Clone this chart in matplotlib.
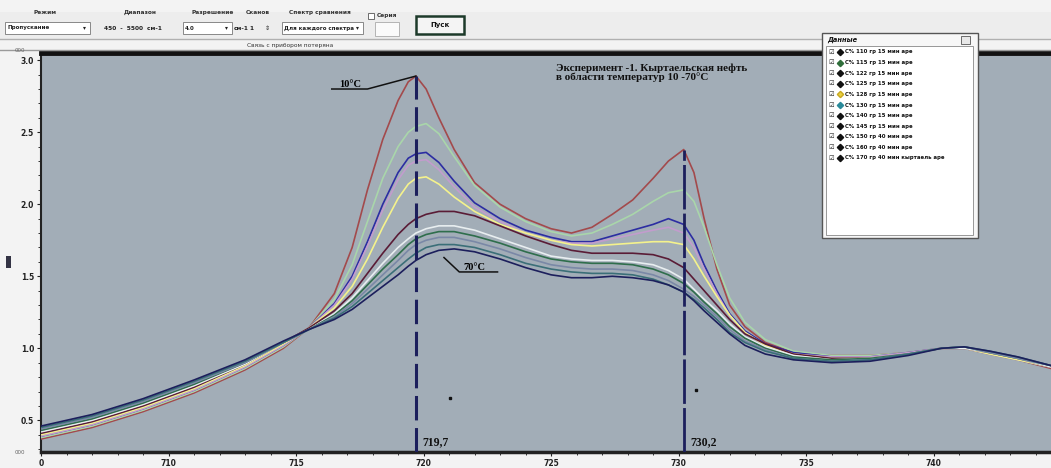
import matplotlib
matplotlib.use("Agg")
import matplotlib.pyplot as plt
from matplotlib.patches import Rectangle
from matplotlib.lines import Line2D
from matplotlib.ticker import MultipleLocator

W, H = 1051, 468

# ---- spectra: wavenumber grid and absorbance of each sample ----
wavenumber = [705, 707, 709, 711, 713, 714.5, 715.5, 716.5, 717.2, 717.8, 718.4,
              719.0, 719.4, 719.7, 720.1, 720.6, 721.2, 722.0, 723.0, 724.0, 725.0,
              725.8, 726.6, 727.4, 728.2, 729.0, 729.6, 730.2, 730.6, 731.0, 731.5,
              732.0, 732.6, 733.4, 734.5, 736.0, 737.5, 739.0, 740.3, 741.2, 742.2,
              743.3, 744.6]

a_110 = [0.37, 0.45, 0.56, 0.69, 0.85, 1.00, 1.14, 1.38, 1.70, 2.10, 2.45, 2.72, 2.85, 2.89,
         2.80, 2.60, 2.38, 2.15, 2.00, 1.90, 1.83, 1.80, 1.84, 1.93, 2.03, 2.18, 2.30, 2.38,
         2.22, 1.90, 1.55, 1.30, 1.15, 1.04, 0.97, 0.95, 0.95, 0.97, 1.00, 1.00, 0.96, 0.92, 0.86]
a_115 = [0.38, 0.46, 0.57, 0.70, 0.86, 1.01, 1.14, 1.34, 1.58, 1.88, 2.18, 2.40, 2.50, 2.54,
         2.56, 2.49, 2.33, 2.13, 1.98, 1.88, 1.81, 1.78, 1.80, 1.86, 1.93, 2.02, 2.08, 2.10,
         2.02, 1.84, 1.58, 1.35, 1.18, 1.06, 0.98, 0.95, 0.95, 0.97, 1.00, 1.00, 0.96, 0.92, 0.87]
a_122 = [0.39, 0.47, 0.58, 0.71, 0.87, 1.02, 1.14, 1.31, 1.50, 1.74, 2.00, 2.22, 2.32, 2.35,
         2.36, 2.29, 2.16, 2.01, 1.90, 1.82, 1.77, 1.74, 1.74, 1.78, 1.82, 1.86, 1.90, 1.86,
         1.75, 1.58, 1.40, 1.24, 1.12, 1.03, 0.97, 0.94, 0.94, 0.97, 1.00, 1.00, 0.96, 0.92, 0.87]
a_125 = [0.39, 0.47, 0.58, 0.71, 0.87, 1.02, 1.14, 1.30, 1.48, 1.71, 1.96, 2.17, 2.27, 2.30,
         2.31, 2.24, 2.12, 1.98, 1.88, 1.80, 1.75, 1.73, 1.73, 1.76, 1.79, 1.82, 1.84, 1.80,
         1.70, 1.55, 1.38, 1.23, 1.11, 1.02, 0.96, 0.94, 0.94, 0.97, 1.00, 1.00, 0.96, 0.92, 0.87]
a_128 = [0.40, 0.48, 0.59, 0.72, 0.88, 1.03, 1.14, 1.28, 1.43, 1.62, 1.84, 2.04, 2.14, 2.18,
         2.19, 2.14, 2.05, 1.95, 1.86, 1.80, 1.75, 1.72, 1.71, 1.72, 1.73, 1.74, 1.74, 1.72,
         1.62, 1.50, 1.36, 1.23, 1.11, 1.02, 0.96, 0.93, 0.93, 0.96, 1.00, 1.00, 0.96, 0.92, 0.87]
a_130 = [0.41, 0.49, 0.60, 0.73, 0.89, 1.04, 1.14, 1.26, 1.38, 1.52, 1.66, 1.79, 1.86, 1.90,
         1.93, 1.95, 1.95, 1.92, 1.85, 1.78, 1.72, 1.68, 1.66, 1.66, 1.66, 1.65, 1.62, 1.56,
         1.48, 1.40, 1.30, 1.20, 1.10, 1.03, 0.96, 0.93, 0.93, 0.96, 1.00, 1.00, 0.97, 0.93, 0.87]
a_140 = [0.42, 0.50, 0.61, 0.74, 0.89, 1.04, 1.13, 1.24, 1.35, 1.47, 1.59, 1.70, 1.76, 1.80,
         1.83, 1.85, 1.85, 1.82, 1.76, 1.70, 1.64, 1.62, 1.61, 1.61, 1.60, 1.58, 1.54, 1.48,
         1.41, 1.34, 1.26, 1.17, 1.08, 1.01, 0.95, 0.92, 0.93, 0.96, 1.00, 1.00, 0.97, 0.93, 0.87]
a_145 = [0.43, 0.51, 0.62, 0.75, 0.90, 1.04, 1.13, 1.23, 1.33, 1.44, 1.55, 1.65, 1.72, 1.76,
         1.79, 1.81, 1.81, 1.78, 1.73, 1.67, 1.62, 1.60, 1.59, 1.59, 1.58, 1.55, 1.51, 1.45,
         1.39, 1.32, 1.24, 1.15, 1.07, 1.00, 0.94, 0.92, 0.93, 0.96, 1.00, 1.01, 0.97, 0.93, 0.88]
a_150 = [0.44, 0.52, 0.63, 0.76, 0.90, 1.04, 1.13, 1.22, 1.31, 1.41, 1.51, 1.61, 1.68, 1.72,
         1.75, 1.77, 1.77, 1.74, 1.69, 1.63, 1.58, 1.56, 1.55, 1.55, 1.54, 1.51, 1.47, 1.41,
         1.36, 1.30, 1.22, 1.13, 1.05, 0.99, 0.93, 0.91, 0.92, 0.96, 1.00, 1.01, 0.97, 0.93, 0.88]
a_160 = [0.45, 0.53, 0.64, 0.77, 0.91, 1.04, 1.13, 1.21, 1.29, 1.38, 1.47, 1.56, 1.62, 1.66,
         1.70, 1.72, 1.72, 1.70, 1.65, 1.59, 1.55, 1.53, 1.52, 1.52, 1.51, 1.48, 1.44, 1.39,
         1.34, 1.28, 1.20, 1.11, 1.04, 0.98, 0.93, 0.91, 0.92, 0.96, 1.00, 1.01, 0.98, 0.94, 0.88]
a_170 = [0.46, 0.54, 0.65, 0.78, 0.92, 1.05, 1.13, 1.20, 1.27, 1.35, 1.43, 1.51, 1.57, 1.61,
         1.65, 1.68, 1.69, 1.67, 1.62, 1.56, 1.51, 1.49, 1.49, 1.50, 1.49, 1.47, 1.44, 1.39,
         1.33, 1.26, 1.18, 1.10, 1.02, 0.96, 0.92, 0.90, 0.91, 0.95, 1.00, 1.01, 0.98, 0.94, 0.88]

spectra = [a_110, a_115, a_122, a_125, a_128, a_130, a_140, a_145, a_150, a_160, a_170]
line_colors = ["#a34a4c", "#a9d6aa", "#2c2da2", "#c29ccd", "#f4f28c", "#5a1c36",
               "#e8eef0", "#2f6e4c", "#7a88a6", "#3b6f78", "#1c1f5c"]

legend_labels = ["С% 110 гр 15 мин аре", "С% 115 гр 15 мин аре", "С% 122 гр 15 мин аре",
                 "С% 125 гр 15 мин аре", "С% 128 гр 15 мин аре", "С% 130 гр 15 мин аре",
                 "С% 140 гр 15 мин аре", "С% 145 гр 15 мин аре", "С% 150 гр 40 мин аре",
                 "С% 160 гр 40 мин аре", "С% 170 гр 40 мин кыртаель аре"]
legend_markers = ["#111111", "#2f6e3a", "#111111", "#111111", "#e8d040", "#2a8a9a",
                  "#111111", "#111111", "#111111", "#111111", "#111111"]

peak_positions = [719.7, 730.2]
peak_labels = ["719,7", "730,2"]
x_ticks = [705, 710, 715, 720, 725, 730, 735, 740]
x_tick_labels = ["0", "710", "715", "720", "725", "730", "735", "740"]
y_ticks = [0.5, 1.0, 1.5, 2.0, 2.5, 3.0]
y_tick_labels = ["0.5", "1.0", "1.5", "2.0", "2.5", "3.0"]

title_text = "Эксперимент -1. Кыртаельская нефть\nв области температур 10 -70°C"


def fx(px):
    return px / W


def fy(py):
    return 1 - py / H


fig = plt.figure(figsize=(W / 100, H / 100), dpi=100)
fig.patch.set_facecolor("#f3f3f3")

# ---- main spectrum panel ----
ax = fig.add_axes([fx(41), fy(452), 1 - fx(41), fy(53) - fy(452)])
ax.set_facecolor("#a2adb7")
ax.set_xlim(705, 744.6)
ax.set_ylim(0.28, 3.05)

for ys, c in zip(spectra, line_colors):
    ax.plot(wavenumber, ys, color=c, lw=1.2, zorder=3)

# peak markers
ax.plot([peak_positions[0]] * 2, [0.28, a_110[13]], color="#1c1f5c", lw=2.2,
        linestyle=(0, (8, 2.5)), zorder=4)
ax.plot([peak_positions[1]] * 2, [0.28, a_110[27]], color="#1c1f5c", lw=2.0,
        linestyle=(0, (16, 1.5)), zorder=4)
ax.text(peak_positions[0] + 0.25, 0.33, peak_labels[0], fontsize=8.5, fontweight="bold",
        family="Liberation Serif", color="#111111", zorder=5)
ax.text(peak_positions[1] + 0.25, 0.33, peak_labels[1], fontsize=8.5, fontweight="bold",
        family="Liberation Serif", color="#111111", zorder=5)

# temperature callouts
ax.plot([716.4, 717.8, peak_positions[0]], [2.80, 2.80, a_110[13]], color="#111111", lw=1.1, zorder=5)
ax.text(716.7, 2.815, "10°C", fontsize=7.5, fontweight="bold", family="Liberation Serif", zorder=5)
ax.plot([720.8, 721.4, 722.9], [1.63, 1.53, 1.53], color="#111111", lw=1.1, zorder=5)
ax.text(721.55, 1.545, "70°C", fontsize=7.5, fontweight="bold", family="Liberation Serif", zorder=5)

ax.text(725.2, 2.98, title_text, fontsize=8, fontweight="bold", family="Liberation Serif",
        va="top", ha="left", linespacing=1.0, color="#111111", zorder=5)

# tiny specks
ax.plot([721.05, 730.7], [0.655, 0.71], "s", ms=1.6, color="#111111", zorder=5)

ax.set_xticks(x_ticks)
ax.set_xticklabels(x_tick_labels)
ax.set_yticks(y_ticks)
ax.set_yticklabels(y_tick_labels)
ax.xaxis.set_minor_locator(MultipleLocator(1))
ax.yaxis.set_minor_locator(MultipleLocator(0.1))
ax.tick_params(axis="both", which="major", direction="out", length=3, width=0.8,
               labelsize=5.5, colors="#222222", pad=2)
ax.tick_params(axis="both", which="minor", direction="out", length=2, width=0.7, colors="#333333")
for lab in ax.get_xticklabels() + ax.get_yticklabels():
    lab.set_fontweight("bold")
ax.spines["top"].set_linewidth(3.5)
ax.spines["top"].set_color("#111111")
ax.spines["bottom"].set_linewidth(2.5)
ax.spines["bottom"].set_color("#222222")
ax.spines["left"].set_linewidth(1.5)
ax.spines["left"].set_color("#222222")
ax.spines["right"].set_visible(False)

# axis range labels
fig.text(fx(20), fy(50), "000", fontsize=4, color="#666666", ha="center", va="center")
fig.text(fx(20), fy(453), "000", fontsize=4, color="#666666", ha="center", va="center")
fig.add_artist(Rectangle((fx(6), fy(268)), fx(5), fy(256) - fy(268), transform=fig.transFigure,
                         facecolor="#333344", edgecolor="none"))

# ---- toolbar ----
fig.add_artist(Rectangle((0, fy(39)), 1, fy(12) - fy(39), transform=fig.transFigure,
                         facecolor="#ededed", edgecolor="none", zorder=0))
fig.add_artist(Line2D([0, 1], [fy(39), fy(39)], transform=fig.transFigure, color="#b0b0b0", lw=1))
fig.add_artist(Line2D([0, 1], [fy(50), fy(50)], transform=fig.transFigure, color="#9a9a9a", lw=1))
heads = [(45, "Режим"), (140, "Диапазон"), (213, "Разрешение"), (258, "Сканов"), (320, "Спектр сравнения")]
for x0, t in heads:
    fig.text(fx(x0), fy(14), t, fontsize=4.2, fontweight="bold", color="#333333", ha="center")
boxes = [(5, 90, "Пропускание"), (183, 232, "4.0"), (282, 363, "Для каждого спектра")]
for x0, x1, t in boxes:
    fig.add_artist(Rectangle((fx(x0), fy(34)), fx(x1 - x0), fy(22) - fy(34), transform=fig.transFigure,
                             facecolor="white", edgecolor="#777777", lw=0.6))
    fig.text(fx(x0 + 2), fy(28), t, fontsize=4.0, fontweight="bold", color="#222222", va="center")
    fig.text(fx(x1 - 6), fy(28), "▾", fontsize=4.2, color="#222222", va="center", ha="center")
fig.text(fx(104), fy(28), "450  -  5500  см-1", fontsize=4.2, fontweight="bold", color="#222222", va="center")
fig.text(fx(234), fy(28), "см-1", fontsize=4.2, fontweight="bold", color="#222222", va="center")
fig.text(fx(249), fy(28), "1", fontsize=4.2, fontweight="bold", color="#222222", va="center")
fig.text(fx(267), fy(28), "⇕", fontsize=4.5, color="#222222", va="center", ha="center")
fig.add_artist(Rectangle((fx(368), fy(19)), fx(6), fy(13) - fy(19), transform=fig.transFigure,
                         facecolor="white", edgecolor="#555555", lw=0.6))
fig.text(fx(377), fy(16), "Серия", fontsize=4.2, fontweight="bold", color="#333333", va="center")
fig.add_artist(Rectangle((fx(375), fy(36)), fx(24), fy(22) - fy(36), transform=fig.transFigure,
                         facecolor="#fafafa", edgecolor="#aaaaaa", lw=0.6))
fig.add_artist(Rectangle((fx(416), fy(34)), fx(48), fy(16) - fy(34), transform=fig.transFigure,
                         facecolor="#f4f4f4", edgecolor="#1d3a2a", lw=1.8))
fig.text(fx(440), fy(25), "Пуск", fontsize=5, fontweight="bold", color="#111111", ha="center", va="center")
fig.text(fx(290), fy(45), "Связь с прибором потеряна", fontsize=4.2, color="#333333", ha="center", va="center")

# ---- data window with the sample list ----
fig.add_artist(Rectangle((fx(822), fy(238)), fx(156), fy(33) - fy(238), transform=fig.transFigure,
                         facecolor="#f7f7f7", edgecolor="#555555", lw=1.0, zorder=10))
fig.text(fx(827), fy(40), "Данные", fontsize=4.8, fontweight="bold", style="italic",
         color="#111111", va="center", zorder=11)
fig.add_artist(Rectangle((fx(961), fy(44)), fx(9), fy(36) - fy(44), transform=fig.transFigure,
                         facecolor="#e8e8e8", edgecolor="#555555", lw=0.6, zorder=11))
fig.add_artist(Rectangle((fx(826), fy(235)), fx(147), fy(46) - fy(235), transform=fig.transFigure,
                         facecolor="white", edgecolor="#888888", lw=0.6, zorder=11))
for i, (lab, mc) in enumerate(zip(legend_labels, legend_markers)):
    yy = 52 + i * 10.6
    fig.text(fx(828), fy(yy), "☑", fontsize=4.5, color="#222222", va="center", zorder=12)
    fig.add_artist(Line2D([fx(840)], [fy(yy)], marker="D", ms=3.2, color=mc,
                          markeredgecolor=mc if mc != "#e8d040" else "#c8a820",
                          transform=fig.transFigure, zorder=12))
    fig.text(fx(845), fy(yy), lab, fontsize=3.9, fontweight="bold", color="#111111",
             va="center", zorder=12)

fig.savefig("out.png", dpi=100, facecolor=fig.get_facecolor())
